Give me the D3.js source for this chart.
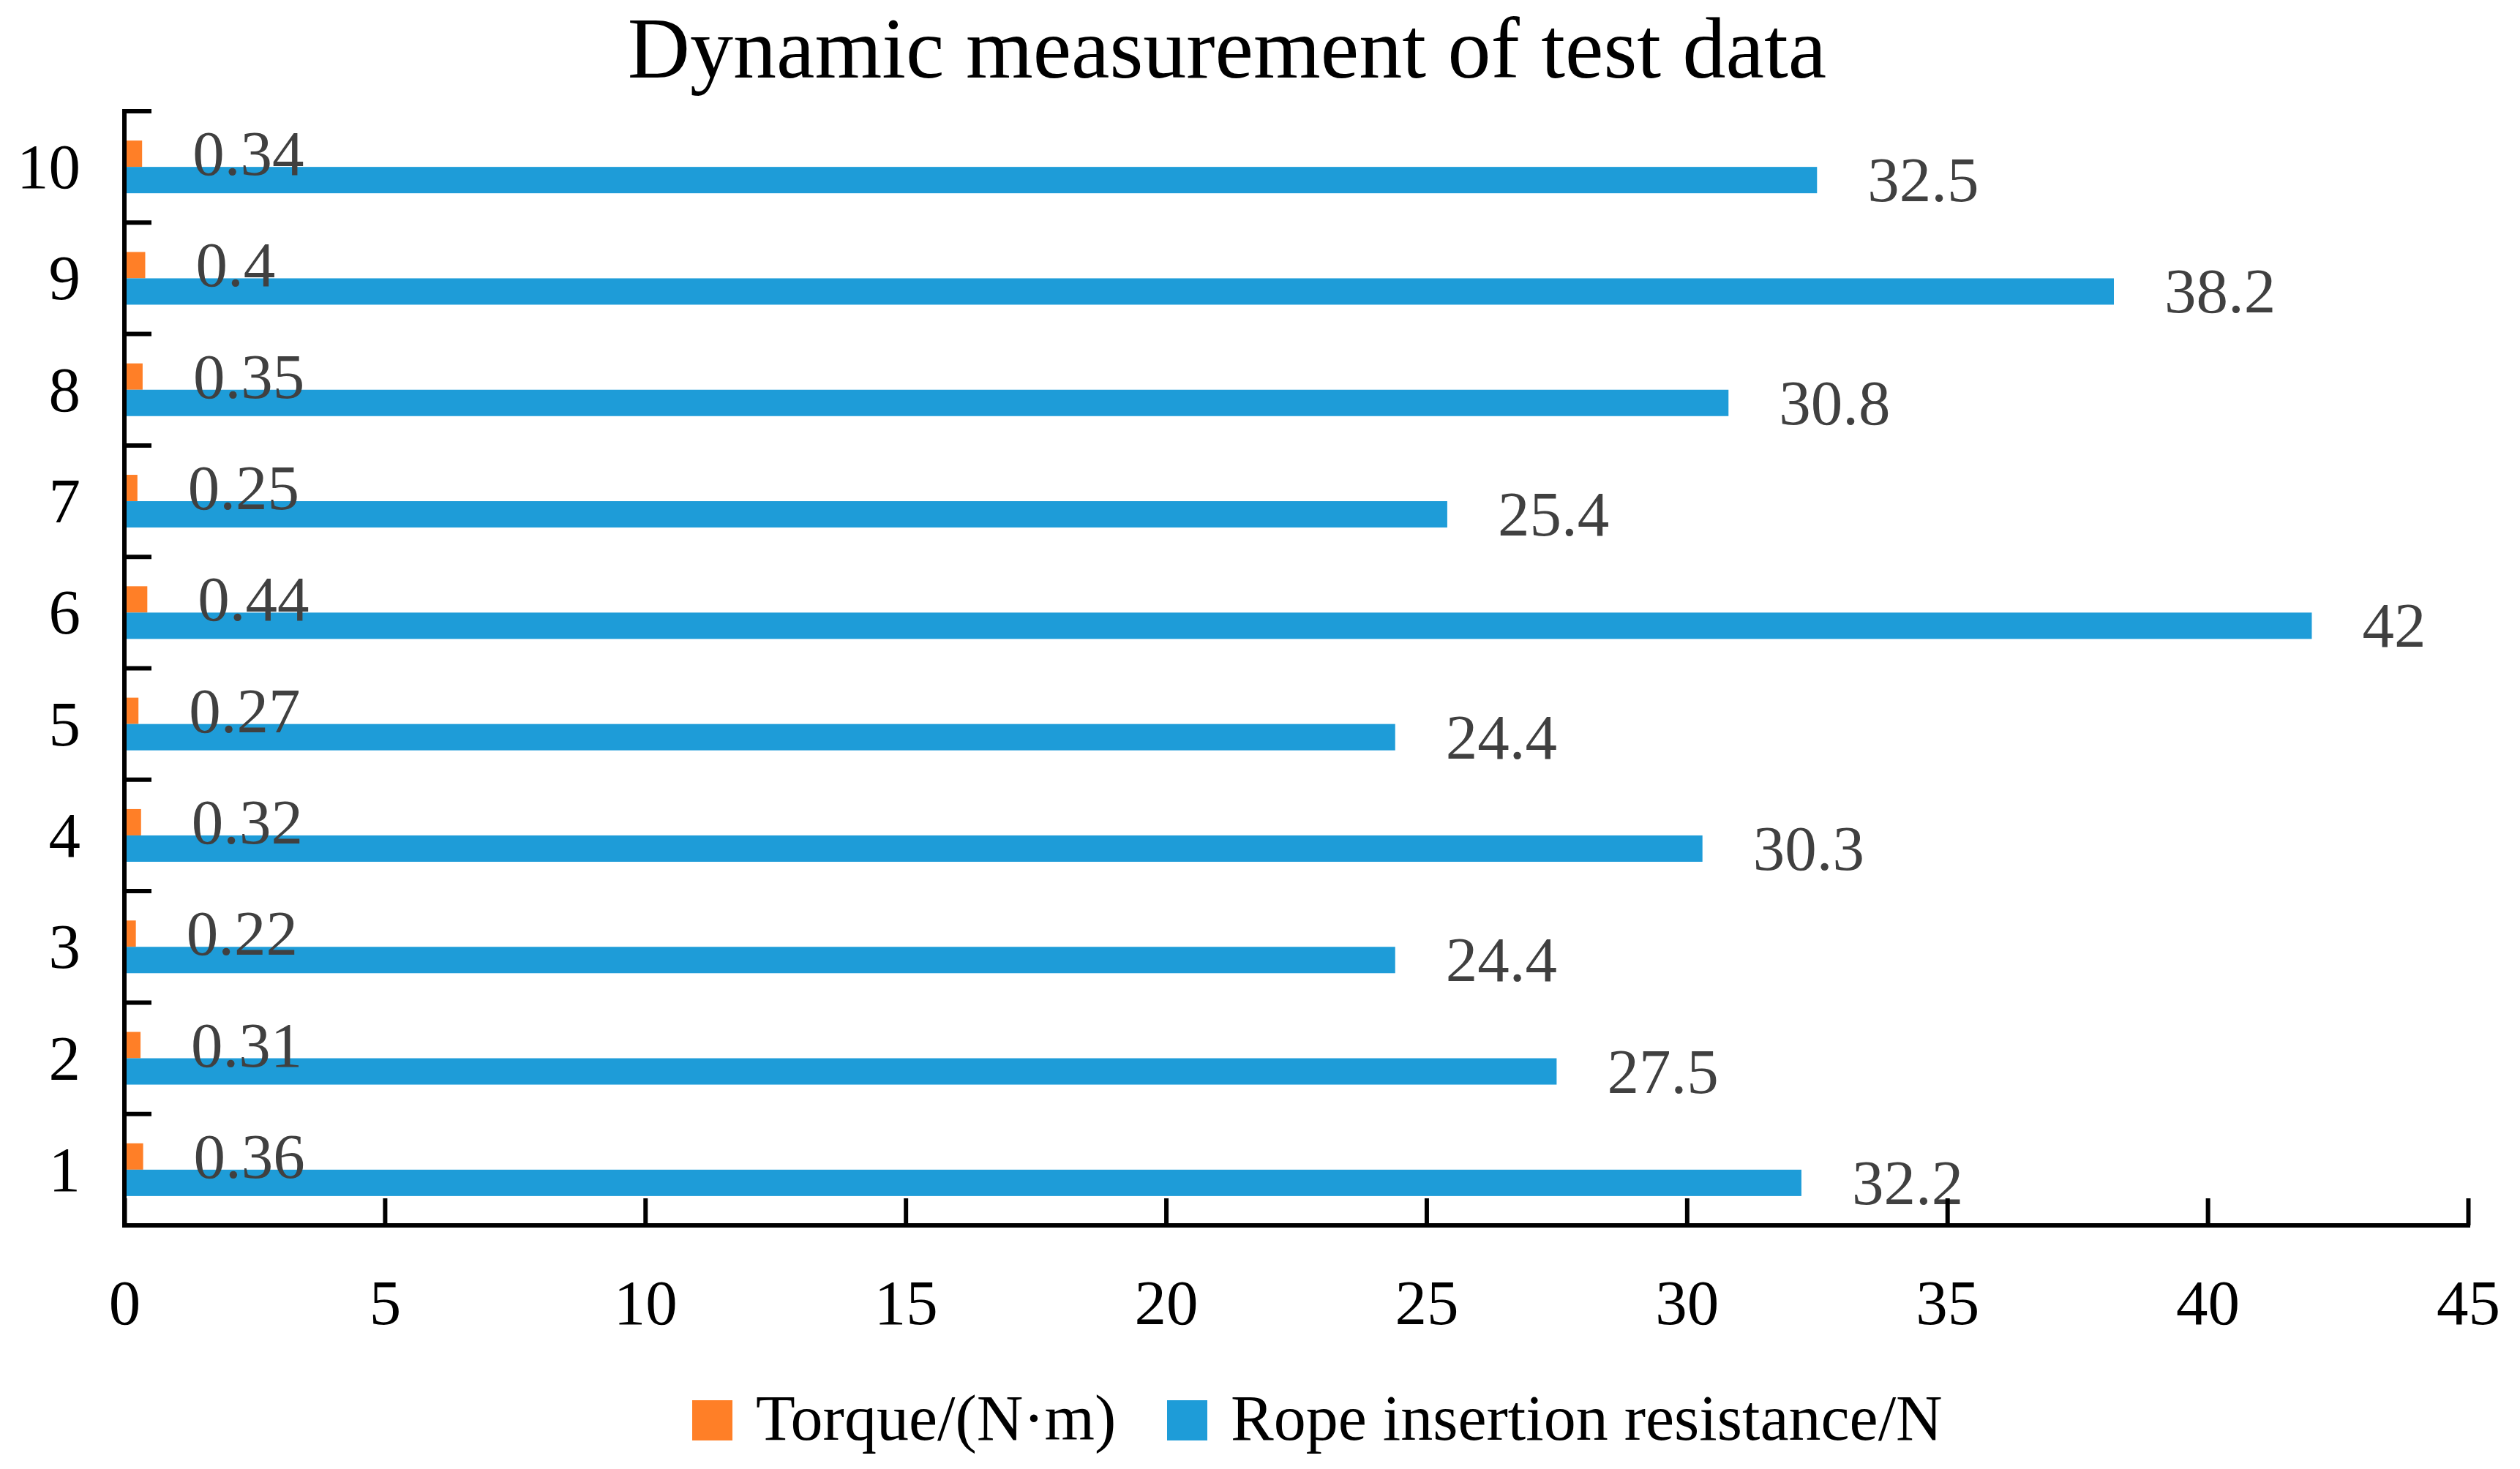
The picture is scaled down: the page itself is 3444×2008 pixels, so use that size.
<!DOCTYPE html>
<html><head><meta charset="utf-8">
<script src="https://cdn.jsdelivr.net/npm/d3@7"></script>
<style>html,body{margin:0;padding:0;background:#fff;}</style>
</head><body>
<svg id="chart" width="3444" height="2008"></svg>
<script>
const categories = ["1","2","3","4","5","6","7","8","9","10"];
const torque = [0.36,0.31,0.22,0.32,0.27,0.44,0.25,0.35,0.4,0.34];
const resistance = [32.2,27.5,24.4,30.3,24.4,42,25.4,30.8,38.2,32.5];
const seriesNames = ["Torque/(N·m)","Rope insertion resistance/N"];
const seriesColors = ["#FF7F27","#1E9CD8"];
const xTicks = [0,5,10,15,20,25,30,35,40,45];

const svg = d3.select("#chart");
const font = "'Liberation Serif','Times New Roman',serif";
const L = 170, R = 3373, T = 152, B = 1675;

const x = d3.scaleLinear().domain([0,45]).range([L,R]);
const y = d3.scaleBand().domain(categories.slice().reverse()).range([T,B]).paddingInner(0.527).paddingOuter(0.2635);
const inner = d3.scaleBand().domain([0,1]).range([0,y.bandwidth()]);

const data = categories.map((c,i)=>({c, vals:[torque[i], resistance[i]]}));

// bars
const gb = svg.append("g");
const gl = svg.append("g");
data.forEach(d=>{
  d.vals.forEach((v,s)=>{
    gb.append("rect")
      .attr("x", x(0))
      .attr("y", y(d.c)+inner(s))
      .attr("width", x(v)-x(0))
      .attr("height", inner.bandwidth())
      .attr("fill", seriesColors[s]);
    gl.append("text")
      .attr("x", x(v)+69)
      .attr("y", y(d.c)+inner(s)+inner.bandwidth()/2+29)
      .attr("font-family", font).attr("font-size", 87)
      .attr("fill","#404040")
      .text(v);
  });
});

// x axis
const xa = svg.append("g").attr("transform",`translate(0,${B})`)
  .call(d3.axisBottom(x).tickValues(xTicks).tickSizeInner(-37).tickSizeOuter(0).tickFormat(d3.format("d")));
xa.select(".domain").attr("stroke","#000").attr("stroke-width",6).attr("d",`M${L-3},0H${R+3}`);
xa.selectAll(".tick line").attr("stroke","#000").attr("stroke-width",6);
xa.selectAll(".tick text").attr("y",135).attr("dy",null)
  .attr("font-family",font).attr("font-size",87).attr("fill","#000");

// y axis
svg.append("line").attr("x1",L).attr("x2",L).attr("y1",T-3).attr("y2",B+3)
  .attr("stroke","#000").attr("stroke-width",6);
const gap = (y.step()-y.bandwidth())/2;
categories.forEach(c=>{
  const yy = y(c)-gap;
  svg.append("line").attr("x1",L).attr("x2",L+37).attr("y1",yy).attr("y2",yy)
    .attr("stroke","#000").attr("stroke-width",6);
  svg.append("text").attr("x",110).attr("y",y(c)+y.bandwidth()/2+29)
    .attr("text-anchor","end").attr("font-family",font).attr("font-size",87)
    .attr("fill","#000").text(c);
});

// title
svg.append("text").attr("x",1677).attr("y",106).attr("text-anchor","middle")
  .attr("font-family",font).attr("font-size",118).attr("fill","#000")
  .text("Dynamic measurement of test data");

// legend
const legX = [946,1595];
seriesNames.forEach((n,i)=>{
  svg.append("rect").attr("x",legX[i]).attr("y",1914).attr("width",55).attr("height",55)
    .attr("fill",seriesColors[i]);
  svg.append("text").attr("x",legX[i]+87).attr("y",1968)
    .attr("font-family",font).attr("font-size",88).attr("fill","#000").text(n);
});
</script>
</body></html>
